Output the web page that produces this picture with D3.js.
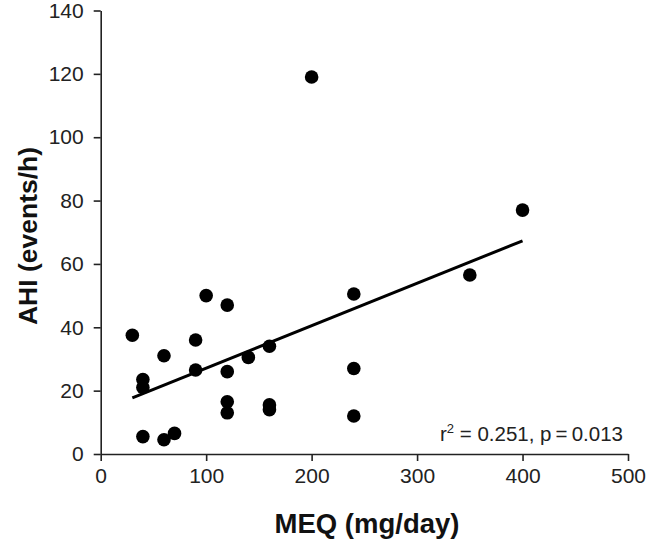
<!DOCTYPE html>
<html><head><meta charset="utf-8">
<script src="https://cdn.jsdelivr.net/npm/d3@7"></script>
<style>body{margin:0;background:#fff;} svg{display:block;font-family:"Liberation Sans",Arial,sans-serif;}</style>
</head><body>
<svg id="c" width="647" height="541"></svg>
<script>
const meq = [30,40,40,40,60,60,70,90,90,100,120,120,120,120,140,160,160,160,200,240,240,240,350,400];
const ahi = [37.5,23.5,21,5.5,31,4.5,6.5,36,26.5,50,47,26,16.5,13,30.5,34,15.5,14,119,50.5,27,12,56.5,77];
const fitX = [30,400];
const fitY = [17.7,67.3];
const xTicks = [0,100,200,300,400,500];
const yTicks = [0,20,40,60,80,100,120,140];
const statText = ["r", "2", " = 0.251, p\u2009=\u20090.013"];

const svg = d3.select("#c");
const x = d3.scaleLinear().domain([0,500]).range([100.7,628]);
const y = d3.scaleLinear().domain([0,140]).range([454,10.5]);

const xAxis = svg.append("g").attr("transform","translate(0,454)")
  .call(d3.axisBottom(x).tickValues(xTicks).tickSize(7).tickSizeOuter(0).tickPadding(7));
const yAxis = svg.append("g").attr("transform","translate(100.7,0)")
  .call(d3.axisLeft(y).tickValues(yTicks).tickSize(7).tickSizeOuter(0).tickPadding(10));
[xAxis,yAxis].forEach(a=>{
  a.select(".domain").attr("stroke","#222").attr("stroke-width",1.6);
  a.selectAll(".tick line").attr("stroke","#222").attr("stroke-width",1.6);
  a.selectAll(".tick text").attr("fill","#222").style("font-size","21px").style("font-family","'Liberation Sans',Arial,sans-serif");
});

svg.append("line")
  .attr("x1",x(fitX[0])).attr("y1",y(fitY[0]))
  .attr("x2",x(fitX[1])).attr("y2",y(fitY[1]))
  .attr("stroke","#000").attr("stroke-width",3);

svg.append("g").selectAll("circle").data(meq.map((m,i)=>[m,ahi[i]])).join("circle")
  .attr("cx",d=>x(d[0])).attr("cy",d=>y(d[1])).attr("r",6.8).attr("fill","#000");

const t = svg.append("text").attr("x",623).attr("y",441).attr("text-anchor","end")
  .attr("fill","#222").style("font-size","20.5px");
t.append("tspan").text(statText[0]);
t.append("tspan").attr("dy",-8).style("font-size","13px").text(statText[1]);
t.append("tspan").attr("dy",8).text(statText[2]);

svg.append("text").attr("x",367).attr("y",533).attr("text-anchor","middle")
  .attr("fill","#111").style("font-size","27.5px").style("font-weight","bold").text("MEQ (mg/day)");
svg.append("text").attr("transform","translate(37,236) rotate(-90)").attr("text-anchor","middle")
  .attr("fill","#111").style("font-size","26.5px").style("font-weight","bold").text("AHI (events/h)");
</script>
</body></html>
